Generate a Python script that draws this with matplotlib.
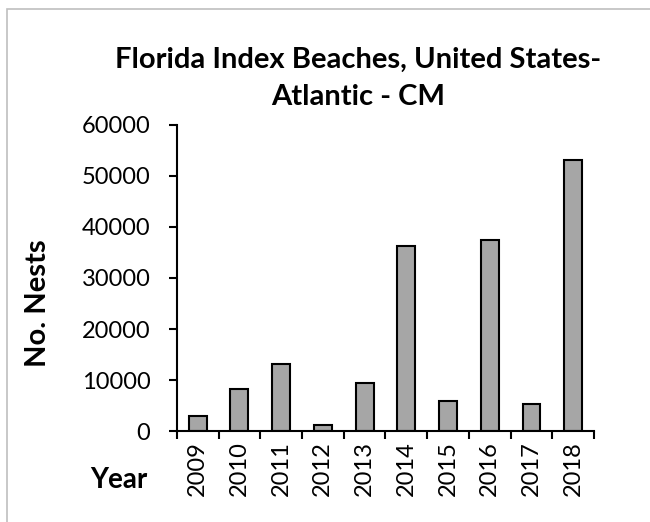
import numpy as np
import matplotlib
matplotlib.use('Agg')
from matplotlib import pyplot as plt
from matplotlib.patches import Rectangle

years = ['2009', '2010', '2011', '2012', '2013', '2014', '2015', '2016', '2017', '2018']
nests = [2950, 8350, 13150, 1200, 9500, 36200, 5850, 37350, 5250, 53100]
yticks = [0, 10000, 20000, 30000, 40000, 50000, 60000]


def main():
    plt.rcParams['font.family'] = ['Lato', 'DejaVu Sans']
    fig = plt.figure(figsize=(6.5, 5.22), dpi=100)
    ax = fig.add_axes([0.272, 0.174, 0.642, 0.587])

    x = np.arange(len(years))
    ax.bar(x, nests, width=0.43, color='#a6a6a6', edgecolor='black', linewidth=1.5)

    ax.set_xlim(-0.5, len(years) - 0.5)
    ax.set_ylim(0, 60000)
    ax.set_yticks(yticks)
    ax.set_yticklabels([str(v) for v in yticks], fontsize=17)
    ax.set_xticks(x)
    ax.set_xticklabels(years, rotation=90, fontsize=17)
    ax.tick_params(axis='x', length=0, pad=7)
    ax.set_xticks(np.arange(len(years) + 1) - 0.5, minor=True)
    ax.tick_params(axis='x', which='minor', length=6, width=1.5, direction='out')
    ax.tick_params(axis='y', length=6, width=1.5, direction='out', pad=13)

    for s in ['top', 'right']:
        ax.spines[s].set_visible(False)
    for s in ['left', 'bottom']:
        ax.spines[s].set_linewidth(1.5)

    fig.text(0.551, 0.885, 'Florida Index Beaches, United States-', ha='center',
             va='center', fontsize=21, fontweight='bold')
    fig.text(0.551, 0.814, 'Atlantic - CM', ha='center', va='center',
             fontsize=21, fontweight='bold')
    fig.text(0.058, 0.42, 'No. Nests', rotation=90, ha='center', va='center',
             fontsize=21, fontweight='bold')
    fig.text(0.183, 0.08, 'Year', ha='center', va='center',
             fontsize=20, fontweight='bold')

    # chart border
    fig.add_artist(Rectangle((0.011, -0.1), 1.2, 1.083, transform=fig.transFigure,
                             fill=False, edgecolor='#bfbfbf', linewidth=1.2))

    fig.savefig('out.png', dpi=100)
    plt.close(fig)


if __name__ == '__main__':
    main()
